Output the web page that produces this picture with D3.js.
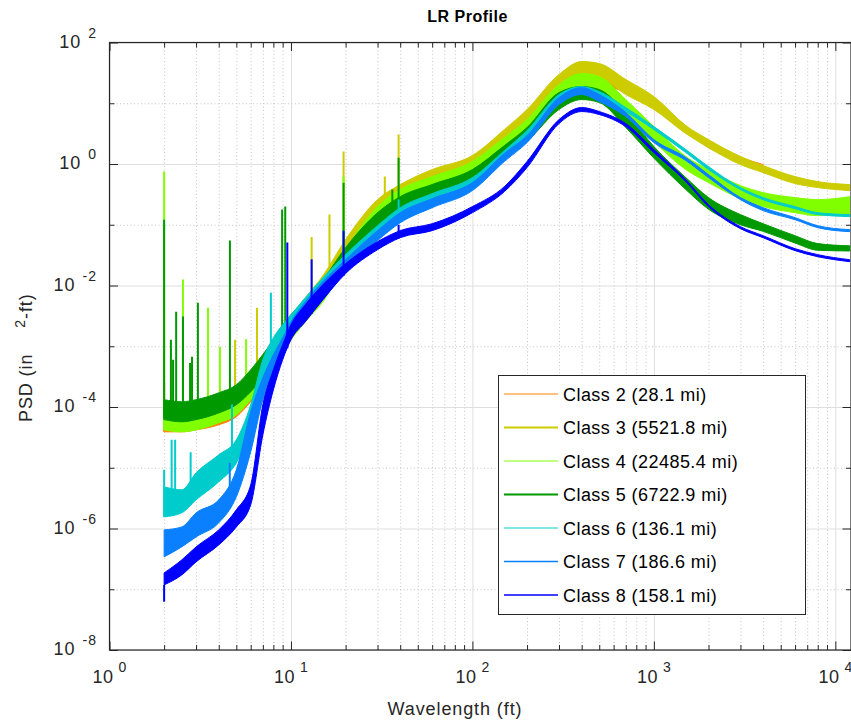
<!DOCTYPE html>
<html>
<head>
<meta charset="utf-8">
<script src="https://cdn.jsdelivr.net/npm/d3@7"></script>
<style>
  body { margin: 0; background: #fff; }
  svg { display: block; font-family: 'Liberation Sans', Arial, Helvetica, sans-serif; }
</style>
</head>
<body>
<svg width="851" height="727"></svg>
<script>
// wavelengths (ft) where the trace envelopes were read
const wavelengths = [2, 2.5, 3, 4, 5, 6, 7, 8, 9, 10, 12, 15, 20, 30, 40, 60, 100, 150, 200, 300, 400, 500, 700, 1000, 1500, 2000, 3000, 4000, 6000, 8000, 12000]

const classNames = ['Class 2 (28.1 mi)', 'Class 3 (5521.8 mi)', 'Class 4 (22485.4 mi)', 'Class 5 (6722.9 mi)', 'Class 6 (136.1 mi)', 'Class 7 (186.6 mi)', 'Class 8 (158.1 mi)']
const classColors = ['#ff8000', '#cccc00', '#80ff00', '#009900', '#00cccc', '#0a80ff', '#0000ff']
const legendWidths = [1, 2, 1, 2, 1, 1.5, 1.5]

// upper / lower edge of each noisy PSD trace (in^2-ft)
const class2Hi = [7.4e-5, 7.4e-5, 8.3e-5, 1.09e-4, 1.47e-4, 2.51e-4, 4.43e-4, 8.1e-4, 1.43e-3, 2.35e-3, 4.65e-3, 1.03e-2, 3.9e-2, 0.191, 0.351, 0.597, 1.10, 2.72, 5.81, 20.3, 33.3, 29.7, 16.8, 8.82, 3.69, 2.01, 1.28, 0.978, null, null, null]
const class2Lo = [3.9e-5, 3.9e-5, 4.2e-5, 5.1e-5, 6.9e-5, 1.22e-4, 2.07e-4, 4.1e-4, 7.25e-4, 1.28e-3, 2.53e-3, 5.8e-3, 2.47e-2, 0.121, 0.223, 0.379, 0.695, 1.73, 3.69, 12.9, 21.1, 20.3, 15.0, 8.18, 3.42, 1.86, 1.18, 0.906, null, null, null]
const class3Hi = [1.09e-4, 1.09e-4, 1.17e-4, 1.53e-4, 2.07e-4, 3.66e-4, 6.5e-4, 1.14e-3, 2.02e-3, 3.18e-3, 6.3e-3, 1.45e-2, 5.7e-2, 0.259, 0.458, 0.809, 1.38, 3.69, 7.88, 29.7, 48.6, 45.1, 24.6, 12.9, 4.29, 2.52, 1.33, 0.941, 0.620, 0.513, 0.458]
const class3Lo = [5.1e-5, 5.1e-5, 5.5e-5, 7.2e-5, 9.7e-5, 1.71e-4, 3.03e-4, 5.6e-4, 1.02e-3, 1.61e-3, 3.18e-3, 7.3e-3, 3.1e-2, 0.152, 0.290, 0.513, 0.873, 2.25, 4.63, 16.8, 28.6, 26.5, 13.9, 7.9, 3.17, 1.86, 0.978, 0.722, 0.476, 0.409, 0.365]
const class4Hi = [8.3e-5, 8.3e-5, 9.0e-5, 1.17e-4, 1.59e-4, 2.81e-4, 4.96e-4, 8.8e-4, 1.55e-3, 2.53e-3, 4.83e-3, 1.03e-2, 3.9e-2, 0.199, 0.379, 0.62, 1.10, 2.72, 5.39, 20.3, 30.9, 27.5, 11.5, 4.13, 1.33, 0.809, 0.441, 0.338, 0.28, 0.259, 0.29]
const class4Lo = [4.2e-5, 3.9e-5, 4.2e-5, 5.5e-5, 7.4e-5, 1.32e-4, 2.32e-4, 4.43e-4, 8.1e-4, 1.28e-3, 2.53e-3, 5.4e-3, 2.2e-2, 0.121, 0.231, 0.379, 0.695, 1.60, 3.17, 11.5, 18.1, 16.8, 7.0, 2.34, 0.809, 0.494, 0.269, 0.199, 0.158, 0.141, 0.147]
const class5Hi = [1.32e-4, 1.22e-4, 1.32e-4, 1.71e-4, 2.32e-4, 4.1e-4, 7.3e-4, 1.28e-3, 2.26e-3, 3.3e-3, 5.8e-3, 1.25e-2, 4.2e-2, 0.158, 0.290, 0.46, 0.81, 2.01, 3.98, 15.0, 18.8, 16.8, 7.0, 1.94, 0.597, 0.28, 0.147, 0.104, 0.066, 0.049, 0.045]
const class5Lo = [6.2e-5, 5.7e-5, 6.2e-5, 8.0e-5, 1.09e-4, 1.78e-4, 3.0e-4, 5.6e-4, 1.06e-3, 1.67e-3, 2.95e-3, 6.3e-3, 2.2e-2, 0.0896, 0.164, 0.259, 0.476, 1.18, 2.34, 7.9, 11.5, 10.3, 3.98, 1.25, 0.38, 0.18, 0.10, 0.078, 0.050, 0.038, 0.037]
const class6Hi = [4.85e-6, 4.33e-6, 8.24e-6, 1.63e-5, 2.88e-5, 1.09e-4, 5.99e-4, 1.38e-3, 2.26e-3, 3.3e-3, 6.3e-3, 1.34e-2, 3.22e-2, 0.0965, 0.191, 0.325, 0.597, 1.66, 3.55, 13.9, 18.8, 15.6, 8.5, 4.13, 1.73, 0.906, 0.409, 0.28, 0.199, 0.158, 0.147]
const class6Lo = [1.55e-6, 1.81e-6, 2.96e-6, 5.86e-6, 1.20e-5, 4.21e-5, 2.32e-4, 7.25e-4, 1.18e-3, 1.87e-3, 3.43e-3, 6.8e-3, 1.82e-2, 0.0661, 0.131, 0.231, 0.424, 1.23, 2.62, 10.7, 15.6, 12.4, 7.3, 3.69, 1.54, 0.809, 0.379, 0.259, 0.184, 0.147, 0.136]
const class7Hi = [9.49e-7, 1.06e-6, 1.81e-6, 2.96e-6, 9.24e-6, 8.34e-5, 3.03e-4, 7.25e-4, 1.38e-3, 2.53e-3, 5.41e-3, 1.16e-2, 2.66e-2, 0.080, 0.158, 0.269, 0.494, 1.49, 2.93, 12.4, 18.1, 13.9, 7.03, 2.52, 1.28, 0.669, 0.280, 0.191, 0.131, 0.0965, 0.0831]
const class7Lo = [3.41e-7, 4.98e-7, 7.27e-7, 1.24e-6, 3.32e-6, 1.83e-5, 1.32e-4, 3.8e-4, 8.1e-4, 1.38e-3, 2.73e-3, 5.84e-3, 1.70e-2, 0.0547, 0.108, 0.191, 0.365, 1.10, 2.25, 9.52, 13.9, 10.7, 6.03, 2.25, 1.14, 0.597, 0.259, 0.171, 0.121, 0.0896, 0.0770]
const class8Hi = [1.86e-7, 3.04e-7, 4.98e-7, 9.49e-7, 2.03e-6, 5.23e-6, 1.09e-4, 4.10e-4, 1.06e-3, 2.26e-3, 4.83e-3, 1.03e-2, 2.29e-2, 0.0527, 0.080, 0.104, 0.199, 0.424, 1.10, 5.39, 8.50, 7.30, 4.63, 1.73, 0.553, 0.214, 0.0931, 0.0661, 0.0404, 0.0322, 0.0266]
const class8Lo = [1.18e-7, 1.72e-7, 2.82e-7, 5.37e-7, 1.06e-6, 2.45e-6, 3.48e-5, 1.92e-4, 5.99e-4, 1.28e-3, 2.53e-3, 5.84e-3, 1.57e-2, 0.0389, 0.0613, 0.080, 0.158, 0.351, 0.873, 4.63, 7.30, 6.52, 4.13, 1.54, 0.513, 0.199, 0.0863, 0.0613, 0.0375, 0.0298, 0.0247]

// narrow spectral peaks: [wavelength, peak PSD]
const class2Spikes = [[2.0, 2.5e-4]]
const class3Spikes = [[4.92, 1.28e-3], [6.5, 4.3e-3], [13.0, 0.063], [16.3, 0.147], [19.5, 1.6], [32.9, 0.62], [39.2, 3.05]]
const class4Spikes = [[2.0, 0.75], [2.54, 1.26e-2], [3.49, 4.3e-3], [4.06, 9.8e-4], [5.66, 1.3e-3], [19.5, 0.62]]
const class5Spikes = [[2.0, 0.121], [2.18, 1.28e-3], [2.24, 6.0e-4], [2.33, 3.7e-3], [2.54, 3.1e-3], [2.78, 5.3e-4], [2.85, 6.7e-4], [3.07, 5.2e-3], [4.61, 0.055], [8.94, 0.178], [9.3, 0.2], [19.5, 0.49], [36.2, 0.38], [39.2, 1.27]]
const class6Spikes = [[2.0, 9.3e-6], [2.2, 2.9e-5], [2.3, 2.9e-5], [2.8, 1.8e-5], [4.73, 1.1e-4], [7.75, 7.6e-3], [39.2, 0.26]]
const class7Spikes = [[4.6, 1.2e-5]]
const class8Spikes = [[2.0, 6.2e-8], [9.55, 0.051], [13.0, 0.027], [19.5, 0.08], [39.2, 0.1]]

const xMajor = [1, 10, 100, 1000, 10000]
const yMajor = [1e-8, 1e-6, 1e-4, 1e-2, 1e0, 1e2]

const his = [class2Hi, class3Hi, class4Hi, class5Hi, class6Hi, class7Hi, class8Hi]
const los = [class2Lo, class3Lo, class4Lo, class5Lo, class6Lo, class7Lo, class8Lo]
const spikes = [class2Spikes, class3Spikes, class4Spikes, class5Spikes, class6Spikes, class7Spikes, class8Spikes]

const series = classNames.map((name, i) => ({
  name,
  color: classColors[i],
  points: wavelengths.map((w, j) => ({ w, hi: his[i][j], lo: los[i][j] })),
  spikes: spikes[i]
}))

const svg = d3.select('svg')
const plot = { left: 109.5, right: 851, top: 42.5, bottom: 650 }
const innerW = plot.right - plot.left
const innerH = plot.bottom - plot.top

const xScale = d3.scaleLog().domain([1, 12200]).range([plot.left, plot.right])
const yScale = d3.scaleLog().domain([1e-8, 1e2]).range([plot.bottom, plot.top])

const xAll = xScale.ticks().filter(v => v <= 12200)
const yAll = yScale.ticks()
const isIn = (arr, v) => arr.some(m => Math.abs(m - v) / m < 1e-9)
const xMinor = xAll.filter(v => !isIn(xMajor, v))
const yMinor = yAll.filter(v => !isIn(yMajor, v))

// grid
const gridG = svg.append('g')
const styleGrid = (g, color, dash) => {
  g.select('.domain').remove()
  g.selectAll('line').attr('stroke', color).attr('stroke-dasharray', dash)
}
gridG.append('g').attr('transform', `translate(0,${plot.bottom})`)
  .call(d3.axisBottom(xScale).tickValues(xMinor).tickSize(-innerH).tickFormat(''))
  .call(g => styleGrid(g, '#c6c6c6', '1,2.5'))
gridG.append('g').attr('transform', `translate(${plot.left},0)`)
  .call(d3.axisLeft(yScale).tickValues(yMinor).tickSize(-innerW).tickFormat(''))
  .call(g => styleGrid(g, '#c6c6c6', '1,2.5'))
gridG.append('g').attr('transform', `translate(0,${plot.bottom})`)
  .call(d3.axisBottom(xScale).tickValues(xMajor).tickSize(-innerH).tickFormat(''))
  .call(g => styleGrid(g, '#dedede', null))
gridG.append('g').attr('transform', `translate(${plot.left},0)`)
  .call(d3.axisLeft(yScale).tickValues(yMajor).tickSize(-innerW).tickFormat(''))
  .call(g => styleGrid(g, '#dedede', null))

// data
svg.append('clipPath').attr('id', 'clip')
  .append('rect').attr('x', plot.left).attr('y', plot.top).attr('width', innerW).attr('height', innerH)

const dataG = svg.append('g').attr('clip-path', 'url(#clip)')

const band = d3.area()
  .defined(d => d.hi != null)
  .x(d => xScale(d.w))
  .y0(d => yScale(d.lo))
  .y1(d => yScale(d.hi))
  .curve(d3.curveMonotoneX)

series.forEach(s => {
  const g = dataG.append('g')
  g.append('path')
    .datum(s.points)
    .attr('d', band)
    .attr('fill', s.color)
    .attr('stroke', s.color)
    .attr('stroke-width', 1)
    .attr('stroke-linejoin', 'round')

  const valid = s.points.filter(d => d.lo != null)
  const basePx = d3.scaleLog().domain(valid.map(d => d.w)).range(valid.map(d => yScale(d.lo)))
  g.selectAll('line').data(s.spikes).enter().append('line')
    .attr('x1', d => xScale(d[0]))
    .attr('x2', d => xScale(d[0]))
    .attr('y1', d => basePx(d[0]))
    .attr('y2', d => yScale(d[1]))
    .attr('stroke', s.color)
    .attr('stroke-width', 2)
})

// axes: inward ticks on all four sides
const tickColor = '#262626'
const styleAxis = g => {
  g.select('.domain').remove()
  g.selectAll('line').attr('stroke', tickColor)
}
const axes = [
  [d3.axisBottom, `translate(0,${plot.bottom})`, xScale, xMinor, xMajor],
  [d3.axisTop, `translate(0,${plot.top})`, xScale, xMinor, xMajor],
  [d3.axisLeft, `translate(${plot.left},0)`, yScale, yMinor, yMajor],
  [d3.axisRight, `translate(${plot.right},0)`, yScale, yMinor, yMajor]
]
axes.forEach(([axisFn, tr, scale, minor, major]) => {
  svg.append('g').attr('transform', tr)
    .call(axisFn(scale).tickValues(minor).tickSize(-5).tickFormat(''))
    .call(styleAxis)
  svg.append('g').attr('transform', tr)
    .call(axisFn(scale).tickValues(major).tickSize(-8.5).tickFormat(''))
    .call(styleAxis)
})

svg.append('rect')
  .attr('x', plot.left).attr('y', plot.top)
  .attr('width', innerW).attr('height', innerH)
  .attr('fill', 'none').attr('stroke', tickColor).attr('stroke-width', 1.2)

// tick labels 10^n
const expOf = v => Math.round(Math.log10(v))

svg.append('g').selectAll('text').data(xMajor).enter().append('text')
  .attr('x', d => xScale(d))
  .attr('y', plot.bottom + 33)
  .attr('text-anchor', 'middle')
  .attr('fill', tickColor)
  .style('font-size', '18px')
  .style('letter-spacing', '0.5px')
  .each(function (d) {
    const t = d3.select(this)
    t.append('tspan').text('10')
    t.append('tspan').attr('dx', 5).attr('dy', -11).style('font-size', '14px').style('letter-spacing', '0px').text(expOf(d))
  })

svg.append('g').selectAll('text').data(yMajor).enter().append('text')
  .attr('x', 97)
  .attr('y', d => yScale(d) + 5)
  .attr('text-anchor', 'end')
  .attr('fill', tickColor)
  .style('font-size', '18px')
  .style('letter-spacing', '1px')
  .each(function (d) {
    const t = d3.select(this)
    t.append('tspan').text('10')
    t.append('tspan').attr('dx', 7).attr('dy', -10).style('font-size', '14px').text(expOf(d))
  })

// title and axis labels
svg.append('text')
  .attr('x', 467.5).attr('y', 22)
  .attr('text-anchor', 'middle')
  .style('font-size', '16px').style('font-weight', 'bold').style('letter-spacing', '0.5px')
  .attr('fill', '#000')
  .text('LR Profile')

svg.append('text')
  .attr('x', 455).attr('y', 715)
  .attr('text-anchor', 'middle')
  .style('font-size', '18px').style('letter-spacing', '0.9px')
  .attr('fill', tickColor)
  .text('Wavelength (ft)')

const yLab = svg.append('text')
  .attr('transform', 'translate(32,422) rotate(-90)')
  .attr('text-anchor', 'start')
  .style('font-size', '18px').style('letter-spacing', '0.9px')
  .attr('fill', tickColor)
yLab.append('tspan').text('PSD (in')
yLab.append('tspan').attr('dx', 26).attr('dy', -7).style('font-size', '14px').text('2')
yLab.append('tspan').attr('dy', 7).text('-ft)')

// legend
const legend = svg.append('g')
legend.append('rect')
  .attr('x', 498.5).attr('y', 375.5).attr('width', 307).attr('height', 239)
  .attr('fill', '#fff').attr('stroke', tickColor).attr('stroke-width', 1)

const rows = legend.selectAll('g.row').data(series).enter().append('g')
  .attr('class', 'row')
  .attr('transform', (d, i) => `translate(0,${394 + i * 33.5})`)
rows.append('line')
  .attr('x1', 504).attr('x2', 558)
  .attr('stroke', d => d.color)
  .attr('stroke-width', (d, i) => legendWidths[i])
rows.append('text')
  .attr('x', 563).attr('y', 6.5)
  .style('font-size', '18px').style('letter-spacing', '0.45px')
  .attr('fill', '#000')
  .text(d => d.name)
</script>
</body>
</html>
